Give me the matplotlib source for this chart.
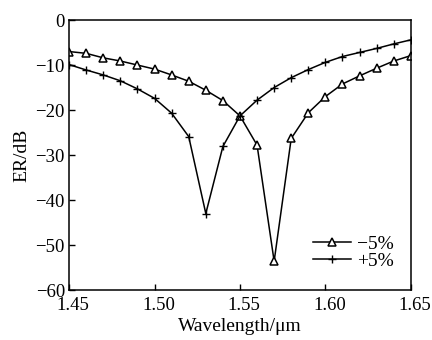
import matplotlib
matplotlib.use("Agg")
import matplotlib.pyplot as plt
from matplotlib.transforms import ScaledTranslation

plt.rcParams['font.family'] = ['Liberation Serif', 'DejaVu Serif']
plt.rcParams['mathtext.fontset'] = 'stix'

wavelength = [1.45, 1.46, 1.47, 1.48, 1.49, 1.50, 1.51, 1.52, 1.53, 1.54, 1.55,
              1.56, 1.57, 1.58, 1.59, 1.60, 1.61, 1.62, 1.63, 1.64, 1.65]
er_minus5 = [-7.0, -7.4, -8.4, -9.1, -10.0, -10.9, -12.2, -13.6, -15.6, -17.9, -21.3,
             -27.8, -53.6, -26.3, -20.6, -17.0, -14.2, -12.4, -10.7, -9.1, -7.9]
er_plus5 = [-9.9, -11.1, -12.2, -13.5, -15.3, -17.4, -20.7, -25.9, -43.0, -28.1, -21.3,
            -17.8, -15.0, -12.8, -11.0, -9.4, -8.1, -7.2, -6.3, -5.3, -4.4]
xticks = [1.45, 1.50, 1.55, 1.60, 1.65]
yticks = [0, -10, -20, -30, -40, -50, -60]

fig = plt.figure(figsize=(4.32, 3.4), dpi=100)
ax = fig.add_axes([0.160, 0.147, 0.791, 0.794])

ax.plot(wavelength, er_minus5, color='black', lw=1.1, marker='^', ms=5.2,
        mfc='white', mec='black', mew=1.1, label='\u22125%')
ax.plot(wavelength, er_plus5, color='black', lw=1.1, marker='+', ms=6,
        mew=1.0, label='+5%')

ax.set_xlim(1.45, 1.65)
ax.set_ylim(-60, 0)
ax.set_xticks(xticks)
ax.set_xticklabels([f"{v:.2f}" for v in xticks])
ax.set_yticks(yticks)
ax.set_yticklabels([str(v).replace('-', '\u2212') for v in yticks])
ax.tick_params(direction='in', length=4, width=1, labelsize=13.5, colors='black')
ax.tick_params(axis='x', pad=5)
ax.tick_params(axis='y', pad=3)
shift = ScaledTranslation(4 / 100, 0, fig.dpi_scale_trans)
for lbl in ax.get_xticklabels():
    lbl.set_transform(lbl.get_transform() + shift)
for s in ax.spines.values():
    s.set_linewidth(1.1)

ax.set_xlabel('Wavelength/\u03bcm', fontsize=14, labelpad=3)
ax.set_ylabel('ER/dB', fontsize=14, labelpad=4)

leg = ax.legend(loc='lower right', bbox_to_anchor=(0.985, 0.03), frameon=False,
                fontsize=14, handlelength=2.0, handletextpad=0.3,
                labelspacing=0.0, borderaxespad=0.2)

fig.savefig('out.png', dpi=100)
